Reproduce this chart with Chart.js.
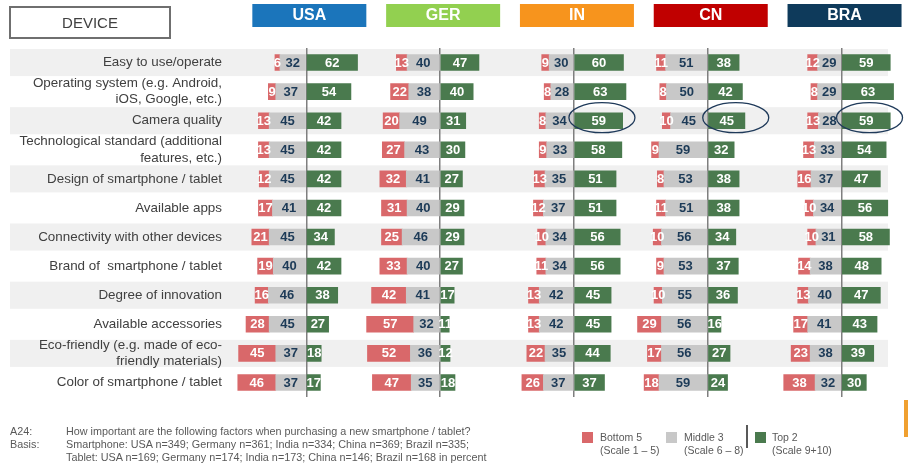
<!DOCTYPE html>
<html><head><meta charset="utf-8">
<script src="https://cdn.jsdelivr.net/npm/chart.js@4.4.1/dist/chart.umd.min.js"></script>
<style>
html,body{margin:0;padding:0;background:#fff;}
#wrap{position:relative;width:908px;height:470px;overflow:hidden;font-family:"Liberation Sans",Arial,sans-serif;}
#c{position:absolute;left:0;top:0;}
.dev{position:absolute;left:9px;top:6px;width:158px;height:29px;border:2px solid #6f6f6f;color:#404040;font-size:15px;line-height:29px;text-align:center;}
.note{position:absolute;font-size:10.8px;color:#595959;line-height:13px;white-space:nowrap;}
.sq{position:absolute;top:432px;width:11px;height:11px;}
.lg{position:absolute;top:431px;font-size:10.5px;color:#595959;line-height:12.5px;white-space:nowrap;}
.sep{position:absolute;left:746px;top:425px;width:2px;height:23px;background:#595959;}
.orange{position:absolute;left:904px;top:400px;width:5px;height:37px;background:#f0a030;}
</style></head>
<body><div id="wrap">
<canvas id="c" width="908" height="470"></canvas>
<div class="dev">DEVICE</div>
<div class="note" style="left:10px;top:425px;">A24:<br>Basis:</div>
<div class="note" style="left:66px;top:425px;">How important are the following factors when purchasing a new smartphone / tablet?<br>Smartphone: USA n=349; Germany n=361; India n=334; China n=369; Brazil n=335;<br>Tablet: USA n=169; Germany n=174; India n=173; China n=146; Brazil n=168 in percent</div>
<div class="sq" style="left:582px;background:#d9686a;"></div>
<div class="lg" style="left:600px;">Bottom 5<br>(Scale 1 – 5)</div>
<div class="sq" style="left:666px;background:#c8c8c8;"></div>
<div class="lg" style="left:684px;">Middle 3<br>(Scale 6 – 8)</div>
<div class="sep"></div>
<div class="sq" style="left:755px;background:#4a7a4e;"></div>
<div class="lg" style="left:772px;">Top 2<br>(Scale 9+10)</div>
<div class="orange"></div>
</div>
<script>
const categories = [
  "Easy to use/operate",
  ["Operating system (e.g. Android,", "iOS, Google, etc.)"],
  "Camera quality",
  ["Technological standard (additional", "features, etc.)"],
  "Design of smartphone / tablet",
  "Available apps",
  "Connectivity with other devices",
  "Brand of  smartphone / tablet",
  "Degree of innovation",
  "Available accessories",
  ["Eco-friendly (e.g. made of eco-", "friendly materials)"],
  "Color of smartphone / tablet"
];
const countries = ["USA", "GER", "IN", "CN", "BRA"];
const headerColors = ["#1b75bb", "#92d050", "#f7941d", "#c00000", "#0e3a5b"];

const usaBottom = [6, 9, 13, 13, 12, 17, 21, 19, 16, 28, 45, 46];
const usaMiddle = [32, 37, 45, 45, 45, 41, 45, 40, 46, 45, 37, 37];
const usaTop    = [62, 54, 42, 42, 42, 42, 34, 42, 38, 27, 18, 17];

const gerBottom = [13, 22, 20, 27, 32, 31, 25, 33, 42, 57, 52, 47];
const gerMiddle = [40, 38, 49, 43, 41, 40, 46, 40, 41, 32, 36, 35];
const gerTop    = [47, 40, 31, 30, 27, 29, 29, 27, 17, 11, 12, 18];

const inBottom  = [9, 8, 8, 9, 13, 12, 10, 11, 13, 13, 22, 26];
const inMiddle  = [30, 28, 34, 33, 35, 37, 34, 34, 42, 42, 35, 37];
const inTop     = [60, 63, 59, 58, 51, 51, 56, 56, 45, 45, 44, 37];

const cnBottom  = [11, 8, 10, 9, 8, 11, 10, 9, 10, 29, 17, 18];
const cnMiddle  = [51, 50, 45, 59, 53, 51, 56, 53, 55, 56, 56, 59];
const cnTop     = [38, 42, 45, 32, 38, 38, 34, 37, 36, 16, 27, 24];

const braBottom = [12, 8, 13, 13, 16, 10, 10, 14, 13, 17, 23, 38];
const braMiddle = [29, 29, 28, 33, 37, 34, 31, 38, 40, 41, 38, 32];
const braTop    = [59, 63, 59, 54, 47, 56, 58, 48, 47, 43, 39, 30];

// highlighted (circled) cells: [country index, category index]
const highlights = [[2, 2], [3, 2], [4, 2]];

const seriesSets = [
  [usaBottom, usaMiddle, usaTop],
  [gerBottom, gerMiddle, gerTop],
  [inBottom, inMiddle, inTop],
  [cnBottom, cnMiddle, cnTop],
  [braBottom, braMiddle, braTop]
];

const RED = "#d9686a", GRAY = "#c8c8c8", GREEN = "#4a7a4e";
const FONT = "'Liberation Sans', Arial, sans-serif";

const datasets = [];
const scales = {
  y: {
    type: "category", position: "left", stacked: true,
    grid: { display: false }, border: { display: false },
    ticks: { font: { family: FONT, size: 13.4 }, color: "#404040", padding: 2, autoSkip: false },
    afterFit: s => { s.width = 232; }
  }
};
countries.forEach((c, i) => {
  const id = "x" + i;
  const [b, m, t] = seriesSets[i];
  datasets.push({ label: c + " Middle 3", kind: "mid", data: m.map(v => -v), backgroundColor: GRAY, xAxisID: id, stack: "s" });
  datasets.push({ label: c + " Bottom 5", kind: "bot", data: b.map(v => -v), backgroundColor: RED, xAxisID: id, stack: "s" });
  datasets.push({ label: c + " Top 2", kind: "top", data: t, backgroundColor: GREEN, xAxisID: id, stack: "s" });
  scales[id] = {
    type: "linear", position: "bottom", stack: "countries", stackWeight: 1, stacked: true,
    min: -90, max: 72,
    ticks: { display: false },
    grid: { drawTicks: false, color: "#7f7f7f", lineWidth: 1.5 },
    border: { display: false },
    afterBuildTicks: s => { s.ticks = [{ value: 0 }]; }
  };
});

const bandsPlugin = {
  id: "bands",
  beforeDraw(chart) {
    const ctx = chart.ctx, y = chart.scales.y;
    const h = y.height / categories.length;
    ctx.save();
    ctx.fillStyle = "#f0f0f0";
    for (let i = 0; i < categories.length; i += 2) {
      const cy = y.getPixelForTick(i);
      ctx.fillRect(10, cy - h / 2 + 1, 878, h - 2);
    }
    ctx.restore();
  }
};

const decoPlugin = {
  id: "deco",
  afterDatasetsDraw(chart) {
    const ctx = chart.ctx;
    ctx.save();
    // value labels
    ctx.font = "bold 13px " + FONT;
    ctx.textAlign = "center";
    ctx.textBaseline = "middle";
    chart.data.datasets.forEach((ds, di) => {
      const meta = chart.getDatasetMeta(di);
      meta.data.forEach((el, j) => {
        const p = el.getProps(["x", "y", "base"], true);
        ctx.fillStyle = ds.kind === "mid" ? "#1c3a57" : "#ffffff";
        ctx.fillText(String(Math.abs(ds.data[j])), (p.x + p.base) / 2, p.y + 0.5);
      });
    });
    // highlight ellipses
    ctx.strokeStyle = "#1f3a5a";
    ctx.lineWidth = 1.3;
    highlights.forEach(([ci, k]) => {
      const xs = chart.scales["x" + ci];
      const cx = xs.getPixelForValue(0) + 28;
      const cy = chart.scales.y.getPixelForTick(k) - 3;
      ctx.beginPath();
      ctx.ellipse(cx, cy, 33, 15, 0, 0, Math.PI * 2);
      ctx.stroke();
    });
    // country headers
    countries.forEach((c, i) => {
      const xs = chart.scales["x" + i];
      const cx = xs.getPixelForValue(0) + 3;
      ctx.fillStyle = headerColors[i];
      ctx.fillRect(cx - 57, 4, 114, 23);
      ctx.fillStyle = "#ffffff";
      ctx.font = "bold 16px " + FONT;
      ctx.fillText(c, cx, 16);
    });
    ctx.restore();
  }
};

new Chart(document.getElementById("c"), {
  type: "bar",
  data: { labels: categories, datasets },
  options: {
    indexAxis: "y",
    responsive: false,
    animation: false,
    maintainAspectRatio: false,
    layout: { padding: { top: 48, bottom: 73, left: 0, right: 7 } },
    datasets: { bar: { barThickness: 16, borderWidth: 0 } },
    plugins: { legend: { display: false }, tooltip: { enabled: false } },
    scales
  },
  plugins: [bandsPlugin, decoPlugin]
});
</script>
</body></html>
